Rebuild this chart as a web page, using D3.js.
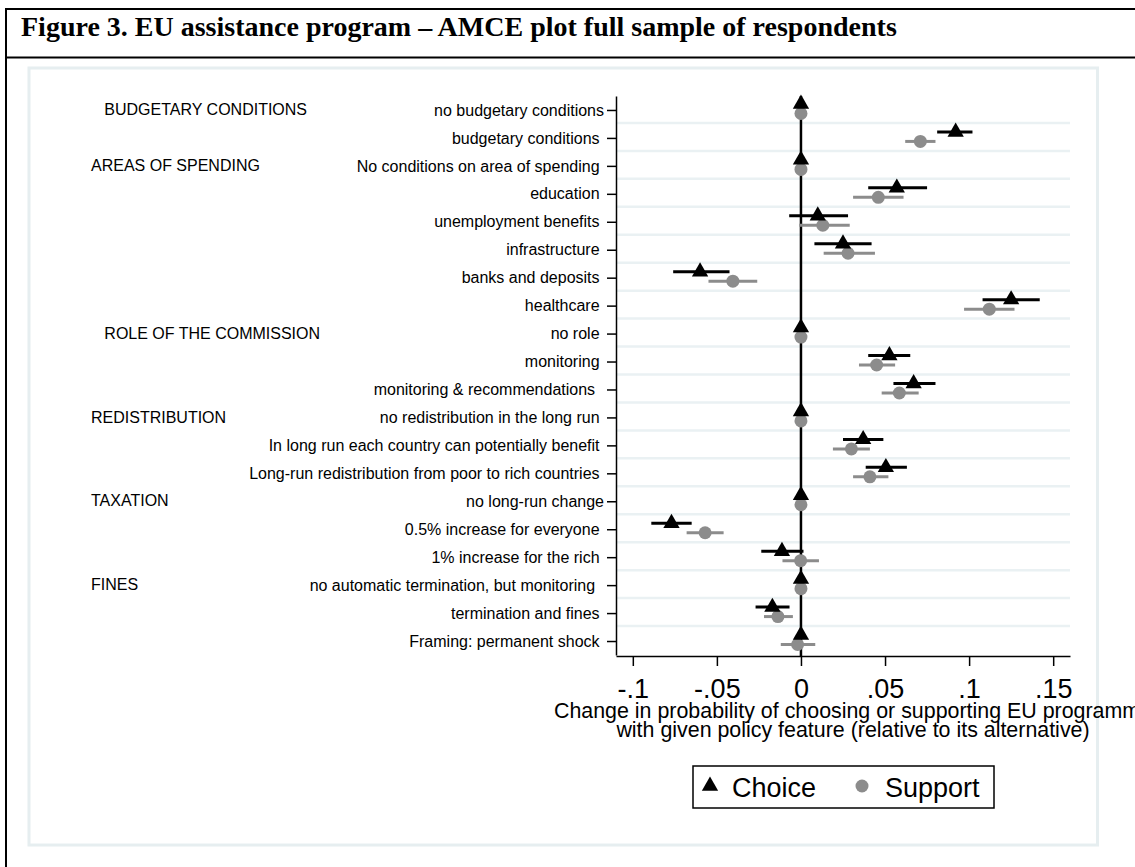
<!DOCTYPE html>
<html>
<head>
<meta charset="utf-8">
<script src="https://cdnjs.cloudflare.com/ajax/libs/d3/7.8.5/d3.min.js"></script>
<style>
body { margin: 0; background: white; }
text { font-family: 'Liberation Sans', Arial, sans-serif; white-space: pre; }
</style>
</head>
<body>
<div id="chart"></div>
<script>
const labels = ['no budgetary conditions', 'budgetary conditions ', 'No conditions on area of spending ', 'education ',
		'unemployment benefits ', 'infrastructure ', 'banks and deposits ', 'healthcare ', 'no role ', 'monitoring ',
		'monitoring & recommendations  ', 'no redistribution in the long run ', 'In long run each country can potentially benefit ',
		'Long-run redistribution from poor to rich countries ', 'no long-run change', '0.5% increase for everyone ',
		'1% increase for the rich ', 'no automatic termination, but monitoring  ', 'termination and fines ', 'Framing: permanent shock '],
	groupNames = ['   BUDGETARY CONDITIONS', 'AREAS OF SPENDING', '   ROLE OF THE COMMISSION', 'REDISTRIBUTION', 'TAXATION', 'FINES'],
	groupRows = [0, 2, 8, 11, 14, 17],
	choiceEst = [0, 0.092, 0, 0.057, 0.010, 0.025, -0.060, 0.125, 0, 0.0526, 0.067, 0, 0.037, 0.0505, 0, -0.077, -0.0113, 0, -0.017, 0],
	choiceLo = [null, 0.081, null, 0.040, -0.007, 0.008, -0.076, 0.108, null, 0.040, 0.055, null, 0.025, 0.0385, null, -0.089, -0.0236, null, -0.027, null],
	choiceHi = [null, 0.102, null, 0.075, 0.028, 0.042, -0.0425, 0.142, null, 0.065, 0.080, null, 0.049, 0.063, null, -0.065, 0.0015, null, -0.0068, null],
	supportEst = [0, 0.071, 0, 0.046, 0.013, 0.028, -0.0405, 0.112, 0, 0.045, 0.0585, 0, 0.030, 0.041, 0, -0.057, -0.0002, 0, -0.0137, -0.002],
	supportLo = [null, 0.062, null, 0.031, -0.001, 0.0135, -0.055, 0.097, null, 0.0345, 0.048, null, 0.019, 0.031, null, -0.068, -0.011, null, -0.022, -0.012],
	supportHi = [null, 0.080, null, 0.061, 0.029, 0.044, -0.026, 0.127, null, 0.056, 0.070, null, 0.041, 0.052, null, -0.046, 0.0107, null, -0.0048, 0.0085],
	xTicks = [-0.1, -0.05, 0, 0.05, 0.1, 0.15],
	xTickLabels = ['-.1', '-.05', '0', '.05', '.1', '.15'],
	legendNames = ['Choice', 'Support'],
	width = 1135,
	height = 867,
	plot = {left: 616, right: 1070, top: 96, bottom: 656},
	choiceOff = -6,
	supportOff = 3.5,
	grey = '#8c8c8c';

const svg = d3.select('#chart')
	.append('svg')
	.attr('width', width)
	.attr('height', height)
	.style('display', 'block');

// frame and title
svg.append('line').attr('x1', 5).attr('x2', width).attr('y1', 9).attr('y2', 9).attr('stroke', 'black').attr('stroke-width', 2);
svg.append('line').attr('x1', 5).attr('x2', width).attr('y1', 57.5).attr('y2', 57.5).attr('stroke', 'black').attr('stroke-width', 2);
svg.append('line').attr('x1', 6).attr('x2', 6).attr('y1', 8).attr('y2', height).attr('stroke', 'black').attr('stroke-width', 2);

svg.append('text')
	.attr('x', 21)
	.attr('y', 36)
	.style('font-family', "'Liberation Serif', 'Times New Roman', serif")
	.style('font-weight', 'bold')
	.style('font-size', '28px')
	.text('Figure 3. EU assistance program \u2013 AMCE plot full sample of respondents');

// graph region
svg.append('rect')
	.attr('x', 29).attr('y', 68)
	.attr('width', 1068.5).attr('height', 777)
	.attr('fill', 'white')
	.attr('stroke', '#e6eef0')
	.attr('stroke-width', 3);

const x = d3.scaleLinear().domain([-0.11, 0.16]).range([plot.left, plot.right]);
const y = d3.scaleLinear().domain([-0.5, labels.length - 0.5]).range([plot.top, plot.bottom - 1]);

// light grid between rows
svg.append('g')
	.selectAll('line')
	.data(d3.range(labels.length - 1))
	.enter()
	.append('line')
		.attr('x1', plot.left + 1)
		.attr('x2', plot.right)
		.attr('y1', d => y(d + 0.5) - 1)
		.attr('y2', d => y(d + 0.5) - 1)
		.attr('stroke', '#eaf1f3')
		.attr('stroke-width', 2.5);

// zero line
svg.append('line')
	.attr('x1', x(0)).attr('x2', x(0))
	.attr('y1', plot.top).attr('y2', plot.bottom)
	.attr('stroke', 'black')
	.attr('stroke-width', 2.5);

// axes
const yAxis = d3.axisLeft(y)
	.tickValues(d3.range(labels.length))
	.tickFormat(i => labels[i])
	.tickSize(9)
	.tickSizeOuter(0)
	.tickPadding(3);

const xAxis = d3.axisBottom(x)
	.tickValues(xTicks)
	.tickFormat((d, i) => xTickLabels[i])
	.tickSize(10)
	.tickSizeOuter(0)
	.tickPadding(13);

const gy = svg.append('g')
	.attr('transform', `translate(${plot.left},0)`)
	.call(yAxis);
gy.selectAll('text').style('font-size', '16px').style('font-family', "'Liberation Sans', Arial, sans-serif").attr('fill', 'black');
gy.selectAll('line').attr('stroke-width', 1.5);
gy.select('.domain').attr('stroke-width', 1.5);

const gx = svg.append('g')
	.attr('transform', `translate(0,${plot.bottom})`)
	.call(xAxis);
gx.selectAll('text').style('font-size', '27px').style('font-family', "'Liberation Sans', Arial, sans-serif").attr('fill', 'black');
gx.selectAll('line').attr('stroke-width', 1.5);
gx.select('.domain').attr('stroke-width', 1.5);

// group headers
svg.append('g')
	.selectAll('text')
	.data(groupNames)
	.enter()
	.append('text')
		.attr('x', 91)
		.attr('y', (d, i) => y(groupRows[i]))
		.attr('dy', '0.32em')
		.style('font-size', '16px')
		.text(d => d);

// support series
const rows = d3.range(labels.length);

svg.append('g')
	.selectAll('line')
	.data(rows.filter(i => supportLo[i] !== null))
	.enter()
	.append('line')
		.attr('x1', i => x(supportLo[i]))
		.attr('x2', i => x(supportHi[i]))
		.attr('y1', i => y(i) + supportOff)
		.attr('y2', i => y(i) + supportOff)
		.attr('stroke', grey)
		.attr('stroke-width', 3);

svg.append('g')
	.selectAll('circle')
	.data(rows)
	.enter()
	.append('circle')
		.attr('cx', i => x(supportEst[i]))
		.attr('cy', i => y(i) + supportOff)
		.attr('r', 6.5)
		.attr('fill', grey);

// choice series
const tri = d3.symbol().type(d3.symbolTriangle).size(115);

svg.append('g')
	.selectAll('line')
	.data(rows.filter(i => choiceLo[i] !== null))
	.enter()
	.append('line')
		.attr('x1', i => x(choiceLo[i]))
		.attr('x2', i => x(choiceHi[i]))
		.attr('y1', i => y(i) + choiceOff)
		.attr('y2', i => y(i) + choiceOff)
		.attr('stroke', 'black')
		.attr('stroke-width', 3);

svg.append('g')
	.selectAll('path')
	.data(rows)
	.enter()
	.append('path')
		.attr('d', tri)
		.attr('transform', i => `translate(${x(choiceEst[i])},${y(i) + choiceOff})`)
		.attr('fill', 'black');

// x axis title
svg.append('text')
	.attr('text-anchor', 'middle')
	.attr('x', 853)
	.attr('y', 718)
	.style('font-size', '21.4px')
	.text('Change in probability of choosing or supporting EU programme');

svg.append('text')
	.attr('text-anchor', 'middle')
	.attr('x', 853)
	.attr('y', 737)
	.style('font-size', '21.4px')
	.text('with given policy feature (relative to its alternative)');

// legend
const legend = svg.append('g');

legend.append('rect')
	.attr('x', 693).attr('y', 766)
	.attr('width', 301).attr('height', 42)
	.attr('fill', 'white')
	.attr('stroke', 'black')
	.attr('stroke-width', 1.5);

legend.append('path')
	.attr('d', tri)
	.attr('transform', 'translate(710,786)')
	.attr('fill', 'black');

legend.append('circle')
	.attr('cx', 862).attr('cy', 786)
	.attr('r', 6.5)
	.attr('fill', grey);

legend.selectAll('text')
	.data(legendNames)
	.enter()
	.append('text')
		.attr('x', (d, i) => i === 0 ? 732 : 885)
		.attr('y', 797)
		.style('font-size', '27px')
		.text(d => d);
</script>
</body>
</html>
